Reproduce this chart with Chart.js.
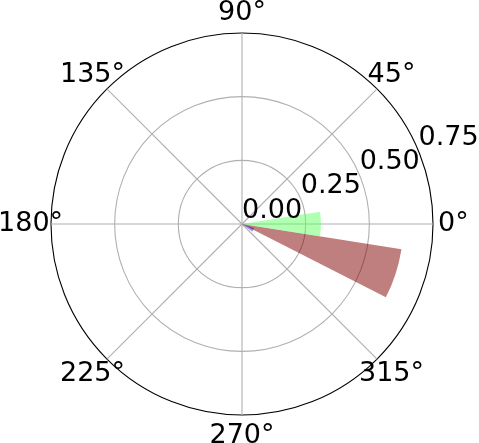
<!DOCTYPE html>
<html>
<head>
<meta charset="utf-8">
<script src="https://cdn.jsdelivr.net/npm/chart.js@4/dist/chart.umd.min.js"></script>
<style>
  html, body { margin: 0; padding: 0; background: #fff; }
  canvas { display: block; }
</style>
</head>
<body>
<canvas id="chart" width="479" height="443"></canvas>
<script>
// bars (theta in degrees, counter-clockwise from east, as in the original polar plot)
const barTheta = [0, -18, -27];
const barRadius = [0.31, 0.634, 0.05];
const barWidth = 18;
const barColors = ["rgba(100,255,100,0.5)", "rgba(128,0,0,0.5)", "rgba(30,30,255,0.5)"];

// axis ticks
const thetaTicks = [0, 45, 90, 135, 180, 225, 270, 315];
const rTicks = [0, 0.25, 0.5, 0.75];
const rLabelAngle = 22.5;

// the scale is split in 9 degree steps from the top, clockwise, so that
// the angle lines fall on the 45 degree ticks
const step = 9;
const nSlices = 360 / step;

function norm(a) {
  return ((a % 360) + 360) % 360;
}

const labels = [];
for (let i = 0; i < nSlices; i++) {
  const a = norm(90 - step * i);
  labels.push(thetaTicks.includes(a) ? a + "°" : "");
}

// each bar is one arc: empty gap before it, the bar, empty gap after it
const datasets = barTheta.map((t, k) => {
  const start = norm(90 - (t + barWidth / 2));
  const angles = [start, barWidth, 360 - start - barWidth];
  return {
    data: [0, barRadius[k], 0],
    angle: c => angles[c.dataIndex],
    backgroundColor: barColors[k],
    borderWidth: 0
  };
});

const FONT = '27px "DejaVu Sans"';

const polarLabels = {
  id: "polarLabels",
  afterDraw(chart) {
    const s = chart.scales.r;
    const ctx = chart.ctx;
    ctx.save();
    ctx.font = FONT;
    ctx.fillStyle = "#000";
    ctx.textBaseline = "alphabetic";

    ctx.textAlign = "center";
    chart.data.labels.forEach((lab, i) => {
      if (!lab) return;
      const p = s.getPointPosition(i, s.drawingArea * 1.107);
      ctx.fillText(lab, p.x, p.y - 2.5 + 0.3645 * 27);
    });

    ctx.textAlign = "left";
    const a = rLabelAngle * Math.PI / 180;
    rTicks.forEach(v => {
      const d = s.getDistanceFromCenterForValue(v);
      const x = s.xCenter + Math.cos(a) * d;
      const y = s.yCenter - Math.sin(a) * d;
      ctx.fillText(v.toFixed(2), x, y - 0.236 * 27);
    });
    ctx.restore();
  }
};

new Chart(document.getElementById("chart"), {
  type: "polarArea",
  data: { labels, datasets },
  options: {
    responsive: false,
    animation: false,
    devicePixelRatio: 1,
    layout: { padding: { top: 33, bottom: 27, left: 51, right: 45 } },
    plugins: { legend: { display: false }, tooltip: { enabled: false } },
    scales: {
      r: {
        z: 1,
        min: 0,
        max: 0.75,
        startAngle: 0,
        ticks: { display: false, stepSize: 0.25 },
        pointLabels: { display: false },
        grid: {
          circular: true,
          color: c => c.tick && c.tick.value === 0.75 ? "#000" : "#b0b0b0",
          lineWidth: 1.1
        },
        angleLines: {
          display: true,
          color: "#b0b0b0",
          lineWidth: c => c.label ? 1.1 : 0
        }
      }
    }
  },
  plugins: [polarLabels]
});
</script>
</body>
</html>
